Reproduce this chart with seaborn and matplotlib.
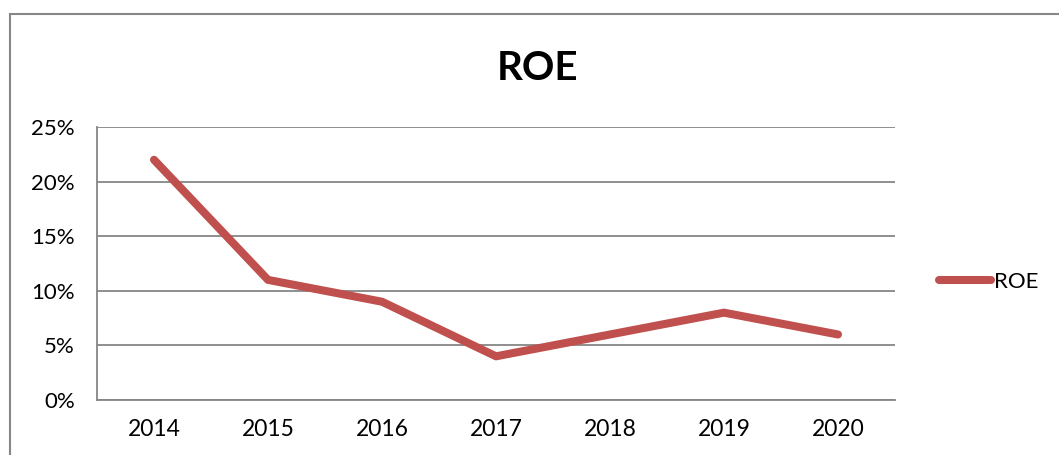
import pandas as pd
import numpy as np
import seaborn as sns
import matplotlib.pyplot as plt
from matplotlib.patches import Rectangle
from matplotlib.ticker import PercentFormatter, FixedLocator

# ----------------------------
# DATA
# ----------------------------
years = ["2014", "2015", "2016", "2017", "2018", "2019", "2020"]
roe = [0.22, 0.11, 0.09, 0.04, 0.06, 0.08, 0.06]

df = pd.DataFrame({"Year": years, "ROE": roe})

# ----------------------------
# STYLE
# ----------------------------
sns.set_style("white")
plt.rcParams["font.family"] = ["Lato", "DejaVu Sans"]
plt.rcParams["text.color"] = "black"
plt.rcParams["xtick.labelcolor"] = "black"
plt.rcParams["ytick.labelcolor"] = "black"

grid_col = "#868686"
line_col = "#C0504D"

fig = plt.figure(figsize=(10.59, 4.55), dpi=100)
ax = fig.add_axes([97 / 1059, 55 / 455, 798 / 1059, 273 / 455])

# outer chart border (Excel style)
fig.patches.append(Rectangle((10 / 1059, -0.1), 1.2, (455 - 14) / 455 + 0.1,
                             transform=fig.transFigure, fill=False,
                             edgecolor=grid_col, linewidth=1.5))

sns.lineplot(data=df, x="Year", y="ROE", ax=ax, color=line_col,
             linewidth=5.8, solid_capstyle="round", sort=False, label="ROE")

ax.set_xlim(-0.5, len(years) - 0.5)
ax.set_ylim(0, 0.25)
ax.set_yticks(np.arange(0, 0.26, 0.05))
ax.yaxis.set_major_formatter(PercentFormatter(1.0, decimals=0))
ax.yaxis.grid(True, color=grid_col, linewidth=1.3)
ax.set_axisbelow(True)

# category tick marks between labels
ax.set_xticks(range(len(years)))
ax.set_xticklabels(years)
ax.xaxis.set_minor_locator(FixedLocator(np.arange(-0.5, len(years), 1.0)))
ax.tick_params(axis="x", which="major", length=0, pad=14, labelsize=16.5)
ax.tick_params(axis="x", which="minor", length=7, width=1.3, color=grid_col, direction="out")
ax.tick_params(axis="y", which="major", length=7, width=1.3, color=grid_col,
               direction="out", labelsize=16, pad=9)

for s in ["top", "right"]:
    ax.spines[s].set_visible(False)
for s in ["left", "bottom"]:
    ax.spines[s].set_color(grid_col)
    ax.spines[s].set_linewidth(1.3)

ax.set_xlabel("")
ax.set_ylabel("")

fig.text(538 / 1059, 1 - 68 / 455, "ROE", ha="center", va="center",
         fontsize=29, fontweight="bold", color="black")

ax.legend(loc="center left", bbox_to_anchor=(928 / 1059, 1 - 282 / 455),
          bbox_transform=fig.transFigure, frameon=False, fontsize=16,
          handlelength=2.35, handletextpad=0.1, borderpad=0)

fig.savefig("out.png", dpi=100)
